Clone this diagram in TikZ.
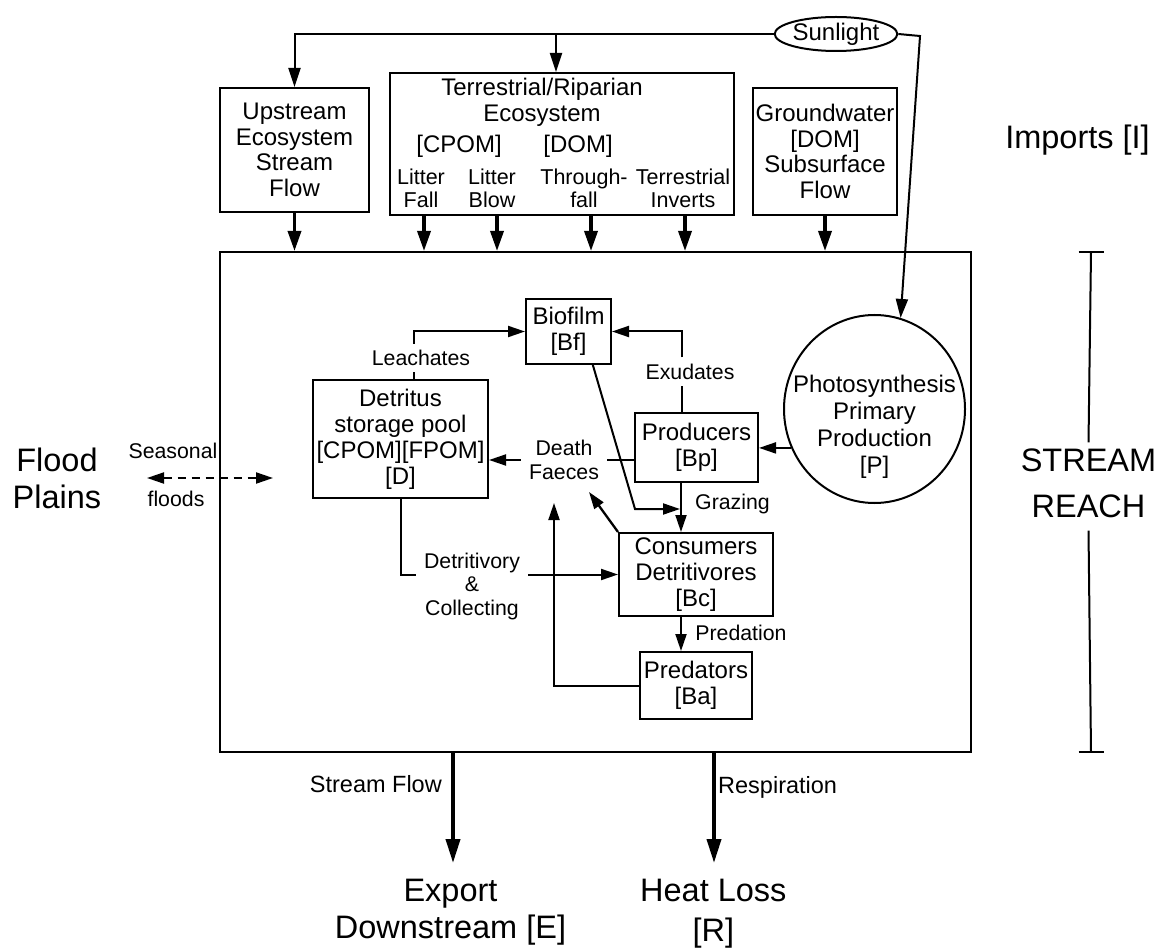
\documentclass[tikz,border=0pt]{standalone}
\usepackage{fontspec}
\setmainfont{Liberation Sans}
\usetikzlibrary{arrows.meta,shapes.geometric}
\newcommand\FTop{\fontsize{24}{25.5}\selectfont}
\newcommand\FMain{\fontsize{24}{26}\selectfont}
\newcommand\FSub{\fontsize{21.5}{23}\selectfont}
\newcommand\FLab{\fontsize{21.3}{24}\selectfont}
\newcommand\FMid{\fontsize{23.5}{26}\selectfont}
\newcommand\FBig{\fontsize{32.5}{37}\selectfont}
\begin{document}
\begin{tikzpicture}[x=1pt,y=-1pt,
  every node/.style={inner sep=1pt, align=center},
  box/.style={draw, line width=2pt, inner sep=1pt},
  lnk/.style={line width=2pt},
  arr/.style={line width=2pt, -{Triangle[length=17pt,width=11pt]}},
  sarr/.style={line width=2pt, -{Triangle[length=19pt,width=12pt]}},
  tarr/.style={line width=3.4pt, -{Triangle[length=20pt,width=13pt]}},
  barr/.style={line width=3.8pt, -{Triangle[length=24pt,width=14pt]}},
  lab/.style={font=\FLab}]
\fill[white] (0,0) rectangle (1161,949);
\useasboundingbox (0,0) rectangle (1161,949);

% ---- imports ----
\node[draw, ellipse, line width=2pt, minimum width=115pt, minimum height=34pt, inner sep=0pt, font=\FTop] (Sun) at (836,34) {Sunlight};
\node[box, minimum width=149pt, minimum height=124pt, font=\FTop] (Up) at (294.5,150) {Upstream\\Ecosystem\\Stream\\Flow};
\node[box, minimum width=344pt, minimum height=142pt] (Terr) at (562,144) {};
\node[font=\FTop] (TerrT) at (542,102.5) {Terrestrial/Riparian\\Ecosystem};
\node[font=\FTop] (cpom) at (459,146) {[CPOM]};
\node[font=\FTop] (dom) at (578,146) {[DOM]};
\node[font=\FSub] (LF) at (421,188.5) {Litter\\Fall};
\node[font=\FSub] (LB) at (492,188.5) {Litter\\Blow};
\node[font=\FSub] (TF) at (584,188.5) {Through-\\fall};
\node[font=\FSub] (TI) at (683,188.5) {Terrestrial\\Inverts};
\node[box, minimum width=144pt, minimum height=127pt, font=\FTop] (GW) at (825,151.5) {Groundwater\\{}[DOM]\\Subsurface\\Flow};
\node[font=\FBig] (Imp) at (1077.5,140) {Imports [I]};

% ---- stream reach ----
\node[box, minimum width=751pt, minimum height=500pt] (Box) at (595.5,502) {};
\node[box, minimum width=85pt, minimum height=65pt, font=\FMain] (Bf) at (568.5,331.5) {Biofilm\\{}[Bf]};
\node[box, minimum width=175pt, minimum height=118pt, font=\FMain] (D) at (400.5,439) {Detritus\\storage pool\\{}[CPOM][FPOM]\\{}[D]};
\node[box, minimum width=123pt, minimum height=69pt, font=\FMain] (Prod) at (696.5,447.5) {Producers\\{}[Bp]};
\node[box, minimum width=154pt, minimum height=83pt, font=\FMain] (Cons) at (696,574.5) {Consumers\\Detritivores\\{}[Bc]};
\node[box, minimum width=112pt, minimum height=67pt, font=\FMain] (Pred) at (696,685.5) {Predators\\{}[Ba]};
\node[draw, ellipse, line width=2pt, minimum width=181pt, minimum height=188pt, inner sep=0pt] (P) at (874.5,409) {};
\node[font=\fontsize{24}{27}\selectfont] (Ptext) at (874.5,426.5) {Photosynthesis\\Primary\\Production\\{}[P]};

% labels
\node[lab, inner xsep=2pt, inner ysep=6pt] (L) at (421,358) {Leachates};
\node[lab, inner xsep=2pt, inner ysep=6pt] (E) at (690,371.5) {Exudates};
\node[lab, inner xsep=8pt] (DF) at (564,460) {Death\\Faeces};
\node[lab] (G) at (732.5,504) {Grazing};
\node[lab] (Pn) at (741,633) {Predation};
\node[font=\fontsize{21.3}{23.5}\selectfont, inner xsep=8pt] (DC) at (472,586) {Detritivory\\\&\\Collecting};
\node[lab] (Sea) at (173,451) {Seasonal};
\node[lab] (Fl) at (176,499) {floods};
\node[font=\FBig] (FP) at (57,478.5) {Flood\\Plains};
\node[font=\fontsize{32.5}{46}\selectfont, inner ysep=6pt] (SR) at (1088.5,483) {STREAM\\REACH};

% ---- exports ----
\node[font=\FMid, anchor=east] (SF) at (443,784) {Stream Flow};
\node[font=\FMid, anchor=west] (Rs) at (717,787) {Respiration};
\node[font=\FBig] (Ex) at (450.5,912.3) {Export\\Downstream [E]};
\node[font=\fontsize{32.5}{40}\selectfont] (HL) at (713.3,914) {Heat Loss\\{}[R]};

% ---- helper coordinates ----
\coordinate (tj) at (556,34);
\coordinate (sj) at (920,36);
\coordinate (a1) at (424,0);
\coordinate (a2) at (497,0);
\coordinate (a3) at (591,0);
\coordinate (a4) at (685,0);
\coordinate (lx) at (414,331);
\coordinate (ex) at (682,331);
\coordinate (gz) at (681,509);
\coordinate (bk) at (635,509);
\coordinate (dfa) at (589,492);
\coordinate (dfb) at (554,503);
\coordinate (fdl) at (147,478);
\coordinate (fdr) at (273,478);
\coordinate (brt) at (1091,252);
\coordinate (brb) at (1091,752);
\coordinate (exT) at (453,863);
\coordinate (hlT) at (714,863);

% ---- sunlight connectors ----
\draw[sarr] (Sun.west) -| (Up.north);
\draw[sarr] (tj) -- (tj |- Terr.north);
\draw[sarr] (Sun.east) -- (sj) -- (P.74);

% ---- import arrows ----
\draw[tarr] (Up.south) -- (Up.south |- Box.north);
\draw[tarr] (Terr.south -| a1) -- (Box.north -| a1);
\draw[tarr] (Terr.south -| a2) -- (Box.north -| a2);
\draw[tarr] (Terr.south -| a3) -- (Box.north -| a3);
\draw[tarr] (Terr.south -| a4) -- (Box.north -| a4);
\draw[tarr] (GW.south) -- (GW.south |- Box.north);

% ---- internal flows ----
\draw[lnk] (D.north -| lx) -- (lx |- L.south);
\draw[arr] (lx |- L.north) |- (Bf.west);
\draw[lnk] (Prod.north -| ex) -- (ex |- E.south);
\draw[arr] (ex |- E.north) |- (Bf.east);
\draw[arr] (P.205) -- (P.205 -| Prod.east);
\draw[lnk] (Prod.west |- DF.east) -- (DF.east);
\draw[arr] (DF.west) -- (D.east |- DF.west);
\draw[arr, shorten >=1pt] (Bf.306) -- (bk) -- (gz);
\draw[arr] (Prod.south -| gz) -- (Cons.north -| gz);
\draw[arr] (Cons.south -| gz) -- (Pred.north -| gz);
\draw[arr, line width=2.3pt] (Cons.north west) -- (dfa);
\draw[arr] (Pred.west) -| (dfb);
\draw[lnk] (D.south) |- (DC.west |- Cons.west);
\draw[arr] (DC.east |- Cons.west) -- (Cons.west);

% ---- floods ----
\draw[line width=2pt, dash pattern=on 8pt off 6pt, {Triangle[length=17pt,width=11pt]}-{Triangle[length=17pt,width=11pt]}] (fdl) -- (fdr);

% ---- bracket ----
\draw[lnk] (brt) -- (SR.north);
\draw[lnk] ([yshift=-7pt]SR.south) -- (brb);
\draw[lnk] ([xshift=-12.5pt]brt) -- ([xshift=12.5pt]brt);
\draw[lnk] ([xshift=-12.5pt]brb) -- ([xshift=12.5pt]brb);

% ---- exports ----
\draw[barr] (Box.south -| exT) -- (exT);
\draw[barr] (Box.south -| hlT) -- (hlT);
\end{tikzpicture}
\end{document}
